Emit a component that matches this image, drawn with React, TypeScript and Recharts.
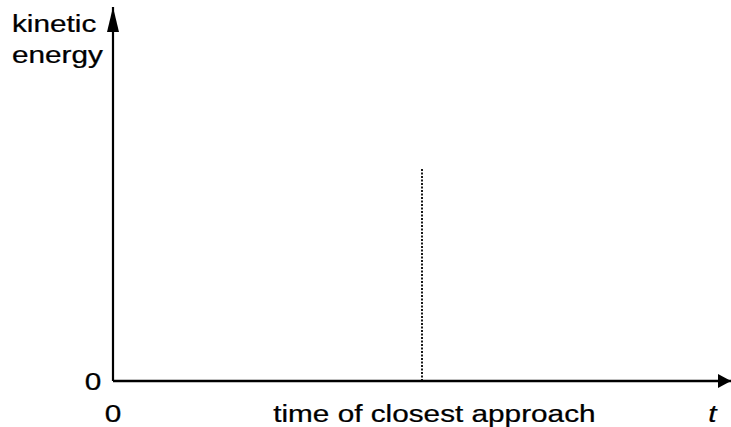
import { LineChart, Line, XAxis, YAxis, ReferenceDot } from 'recharts'

// time axis runs 0 -> 100 (arrow tip), kinetic energy 0 -> 100 (arrow tip)
const timeDomain: [number, number] = [0, 100]
const energyDomain: [number, number] = [0, 100]

// dotted marker at the time of closest approach
const closestApproach = [
  { t: 50, ke: 0 },
  { t: 50, ke: 57 },
]

const xTickValues = [0, 52, 97]
const xTickLabels = ['0', 'time of closest approach', 't']
const yTickValues = [0]
const yTickLabels = ['0']
const yTitle = ['kinetic', 'energy']

const FONT = '"Liberation Sans", Arial, Helvetica, sans-serif'
const STRETCH = 1.24 // the original lettering is wide
const textStyle = { fontFamily: FONT, fontSize: 24, fill: '#000', stroke: '#000', strokeWidth: 0.25 }

function XTick(props: any) {
  const { x, y, payload } = props
  const label = xTickLabels[xTickValues.indexOf(payload.value)]
  return (
    <text
      transform={`translate(${x},${y + 41}) scale(${STRETCH},1)`}
      textAnchor="middle"
      fontStyle={label === 't' ? 'italic' : 'normal'}
      {...textStyle}
    >
      {label}
    </text>
  )
}

function YTick(props: any) {
  const { x, y, payload } = props
  const label = yTickLabels[yTickValues.indexOf(payload.value)]
  return (
    <text transform={`translate(${x - 20},${y + 9}) scale(${STRETCH},1)`} textAnchor="middle" {...textStyle}>
      {label}
    </text>
  )
}

function YTitle(props: any) {
  const vb = props.viewBox || { x: 0, y: 7 }
  return (
    <g>
      {yTitle.map((line, i) => (
        <text
          key={line}
          transform={`translate(${vb.x + 12},${vb.y + 25 + i * 31}) scale(${STRETCH},1)`}
          textAnchor="start"
          {...textStyle}
        >
          {line}
        </text>
      ))}
    </g>
  )
}

const upArrow = (p: any) => (
  <path d={`M${p.cx},${p.cy} L${p.cx - 6},${p.cy + 25} L${p.cx + 6},${p.cy + 25} Z`} fill="#000" />
)

const rightArrow = (p: any) => (
  <path d={`M${p.cx},${p.cy} L${p.cx - 13},${p.cy - 7} L${p.cx - 13},${p.cy + 7} Z`} fill="#000" />
)

export default function App() {
  return (
    <div style={{ position: 'absolute', left: 0, top: 0, background: '#fff' }}>
      <LineChart
        width={731}
        height={427}
        data={closestApproach}
        margin={{ top: 7, right: 0, bottom: 0, left: 0 }}
      >
        <XAxis
          type="number"
          dataKey="t"
          domain={timeDomain}
          ticks={xTickValues}
          interval={0}
          tick={<XTick />}
          tickLine={false}
          tickSize={0}
          tickMargin={0}
          height={46}
          axisLine={{ stroke: '#000', strokeWidth: 2.5 }}
        />
        <YAxis
          type="number"
          domain={energyDomain}
          ticks={yTickValues}
          interval={0}
          tick={<YTick />}
          tickLine={false}
          tickSize={0}
          tickMargin={0}
          width={113}
          axisLine={{ stroke: '#000', strokeWidth: 2.2 }}
          label={{ content: (p: any) => <YTitle {...p} /> }}
        />
        <Line
          dataKey="ke"
          stroke="#000"
          strokeWidth={1.8}
          strokeDasharray="2 1.5"
          dot={false}
          activeDot={false}
          isAnimationActive={false}
        />
        <ReferenceDot x={timeDomain[0]} y={energyDomain[1]} ifOverflow="visible" shape={upArrow} />
        <ReferenceDot x={timeDomain[1]} y={energyDomain[0]} ifOverflow="visible" shape={rightArrow} />
      </LineChart>
    </div>
  )
}
